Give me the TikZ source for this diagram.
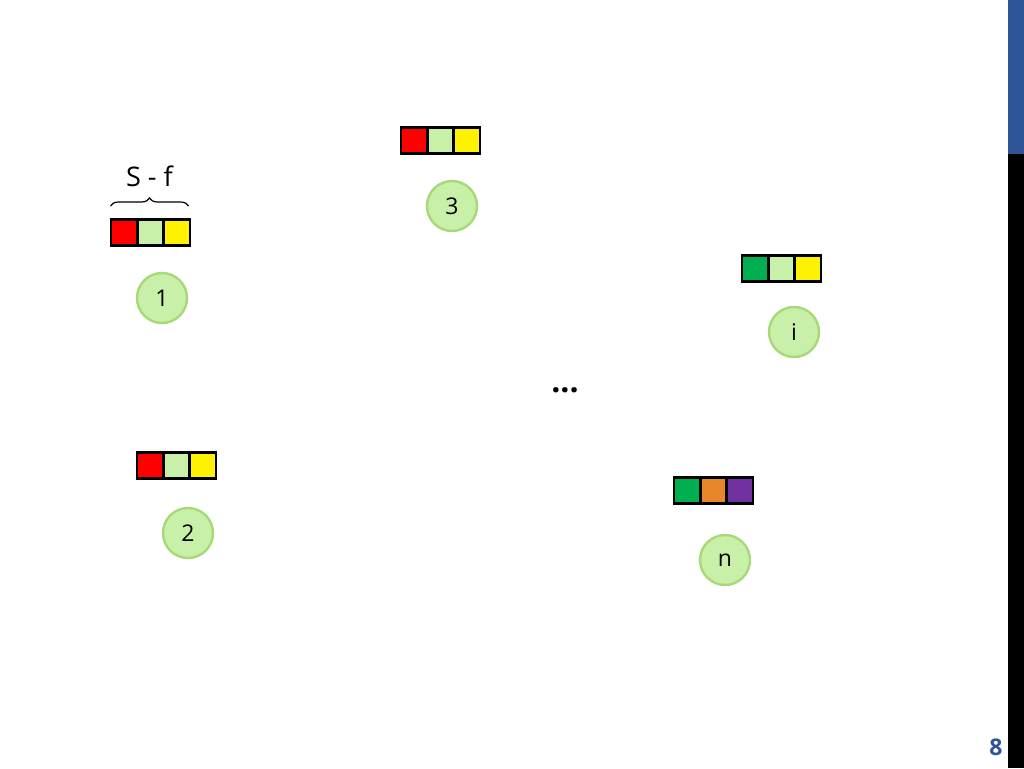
\documentclass[tikz,border=0pt]{standalone}
\usepackage{fontspec}
\setmainfont{Open Sans}
\usetikzlibrary{decorations.pathreplacing}
\definecolor{lgreen}{HTML}{C8F0A8}
\definecolor{cborder}{HTML}{A8D878}
\definecolor{dgreen}{HTML}{00B050}
\definecolor{orng}{HTML}{E8862A}
\definecolor{purp}{HTML}{7030A0}
\definecolor{barblue}{HTML}{2E5597}
\begin{document}
\begin{tikzpicture}[x=1pt,y=-1pt,
  cell/.style={draw=black,line width=2.8pt,minimum width=26.3pt,minimum height=26.5pt,inner sep=0pt,outer sep=0pt,anchor=west},
  agent/.style={circle,draw=cborder,line width=2.4pt,fill=lgreen,minimum size=50pt,inner sep=0pt,font=\fontsize{23}{25}\selectfont}]
\useasboundingbox (0,0) rectangle (1024,768);
\fill[white] (0,0) rectangle (1024,768);
\fill[barblue] (1008,0) rectangle (1024,154);
\fill[black] (1008,154) rectangle (1024,768);
\node[font=\bfseries\fontsize{23}{25}\selectfont,text=barblue] (pg) at (996,747) {8};
% box 1
\node[cell,fill=red] (a1) at (111,232.5) {};
\node[cell,fill=lgreen] (a2) at (a1.east) {};
\node[cell,fill=yellow] (a3) at (a2.east) {};
\node[agent] (c1) at (162,298) {1};
\draw[line width=1.2pt,decorate,decoration={brace,amplitude=8pt}] (110.5,206) -- (188.5,206) coordinate (bre);
\node[font=\fontsize{27}{29}\selectfont] (sf) at (149.5,176) {S - f};
% box 3
\node[cell,fill=red] (b1) at (401,140.5) {};
\node[cell,fill=lgreen] (b2) at (b1.east) {};
\node[cell,fill=yellow] (b3) at (b2.east) {};
\node[agent] (c3) at (452,206) {3};
% box i
\node[cell,fill=dgreen] (d1) at (742,268.5) {};
\node[cell,fill=lgreen] (d2) at (d1.east) {};
\node[cell,fill=yellow] (d3) at (d2.east) {};
\node[agent] (ci) at (794,332) {i};
% box 2
\node[cell,fill=red] (e1) at (137,465.5) {};
\node[cell,fill=lgreen] (e2) at (e1.east) {};
\node[cell,fill=yellow] (e3) at (e2.east) {};
\node[agent] (c2) at (188,533) {2};
% box n
\node[cell,fill=dgreen] (f1) at (674,490.5) {};
\node[cell,fill=orng] (f2) at (f1.east) {};
\node[cell,fill=purp] (f3) at (f2.east) {};
\node[agent] (cn) at (725,560) {n};
% dots
\node[font=\bfseries\fontsize{32}{34}\selectfont] (dots) at (565,390) {...};
\end{tikzpicture}
\end{document}
